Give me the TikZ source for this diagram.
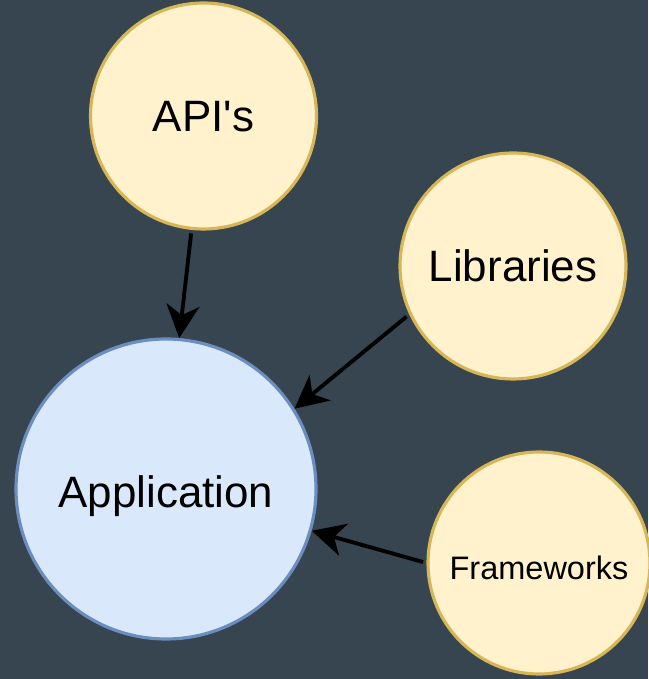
\documentclass[tikz,border=0pt]{standalone}
\usepackage{fontspec}
\setmainfont{Liberation Sans}
\usetikzlibrary{arrows.meta}
\definecolor{slate}{HTML}{36454F}
\definecolor{noteyellow}{HTML}{FFF2CC}
\definecolor{noteborder}{HTML}{D6B656}
\definecolor{appblue}{HTML}{DAE8FC}
\definecolor{appborder}{HTML}{6C8EBF}
\begin{document}
\begin{tikzpicture}[>={Stealth[length=0.66cm,width=0.66cm,inset=0.2cm]},
    dep/.style={circle, draw=noteborder, fill=noteyellow, line width=1.8pt,
      minimum size=4.52cm, inner sep=0pt, text height=17.9pt, text depth=0pt,
      font=\fontsize{25}{30}\selectfont},
    app/.style={dep, draw=appborder, fill=appblue, minimum size=6cm}]
  % background, also fixes the page size
  \fill[slate] (0,0) rectangle (12.96,13.58);
  \useasboundingbox (0,0) rectangle (12.96,13.58);

  \node[app, text height=21.5pt] (app) at (3.32,3.8) {Application};
  \node[dep] (api) at (4.07,11.26) {API\textquotesingle s};
  \node[dep] (lib) at (10.26,8.26) {Libraries};
  \node[dep, minimum size=4.44cm, text height=18.5pt,
    font=\fontsize{18.5}{22}\selectfont] (fw) at (10.78,2.32) {Frameworks};

  \draw[->, line width=2.2pt, shorten <=2pt] (api.264) -- (app.85);
  \draw[->, line width=2.2pt, shorten <=2pt] (lib.205) -- (app.32);
  \draw[->, line width=2.2pt, shorten <=2pt] (fw.180) -- (app.344);
\end{tikzpicture}
\end{document}
